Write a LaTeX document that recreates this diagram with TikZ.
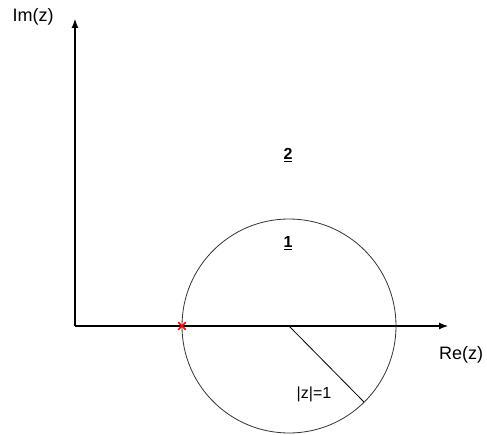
\documentclass[tikz,border=0pt]{standalone}
\usepackage{fontspec}
\setmainfont{Liberation Sans}
\usepackage{tikz}
\usetikzlibrary{arrows.meta,positioning,calc}

\tikzset{
  axis/.style={line width=1.1pt, -{Latex[length=9pt,width=7pt]}},
  axislabel/.style={font=\fontsize{18}{18}\selectfont, inner sep=0pt},
  region/.style={font=\bfseries\fontsize{16}{16}\selectfont, inner sep=0pt},
  pole/.style={draw=red, line width=1.6pt, line cap=round}
}

\begin{document}
\begin{tikzpicture}[x=1pt, y=1pt, line join=round]
  % fixed page size, same as the reference
  \useasboundingbox (0,0) rectangle (487,434);

  \def\unitradius{107}%

  % points of the plane
  \coordinate (origin) at (75,108);
  \coordinate (imtip)  at (75,415);
  \coordinate (retip)  at (448,108);
  \coordinate (centre) at (289,108);
  \coordinate (rim)    at (364,32);
  \coordinate (pole)   at (182,108);

  % the axes
  \draw[axis] (origin) -- (imtip);
  \draw[axis] (origin) -- (retip);

  % unit circle and its radius
  \draw[line width=0.8pt, black!80] (centre) circle (\unitradius);
  \draw[line width=0.8pt] (centre) -- (rim);

  % the pole on the real axis
  \draw[pole] ($(pole)+(-3.5,-3.5)$) -- ($(pole)+(3.5,3.5)$);
  \draw[pole] ($(pole)+(-3.5,3.5)$) -- ($(pole)+(3.5,-3.5)$);

  % labels
  \node[axislabel] (imlabel) at (33,417) {Im(z)};
  \node[axislabel] (relabel) at (461,79) {Re(z)};
  \node[region] (outside) at (288,279) {\underline{2}};
  \node[region] (inside)  at (288,191) {\underline{1}};
  \node[axislabel, font=\fontsize{16}{16}\selectfont] (radlabel) at (314,40) {|z|=1};
\end{tikzpicture}
\end{document}
